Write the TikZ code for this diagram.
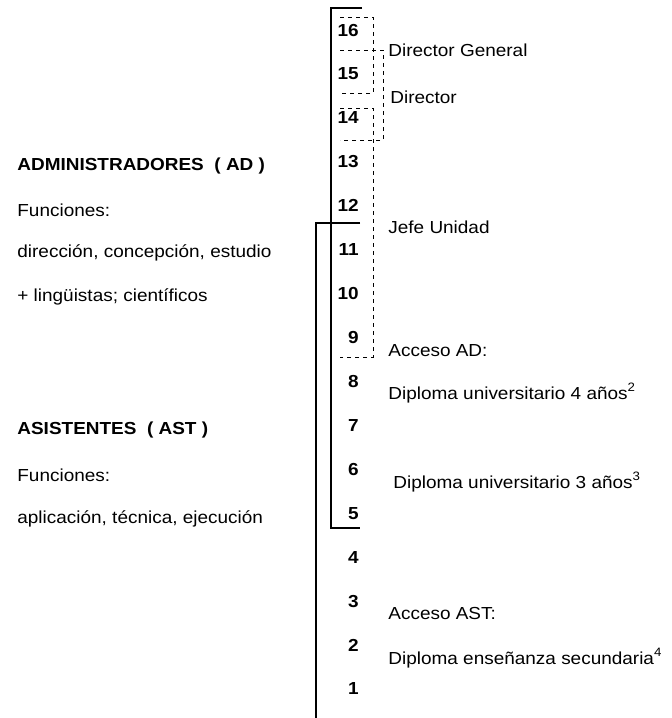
\documentclass[tikz,border=0pt]{standalone}
\usepackage{fontspec}
\setmainfont{Liberation Sans}[FakeStretch=1.09]
\usepackage{tikz}

\begin{document}
\begin{tikzpicture}[x=0.5pt, y=-0.5pt,
    texto/.style={anchor=west, inner sep=0pt, font=\fontsize{8.7}{10}\selectfont},
    titulo/.style={texto, font=\fontsize{8.7}{10}\selectfont\bfseries},
    grado/.style={anchor=east, inner sep=0pt, font=\fontsize{8.7}{10}\selectfont\bfseries},
    escala/.style={line width=0.9pt},
    tramo/.style={line width=0.45pt, dash pattern=on 2pt off 2pt}]
    \useasboundingbox (0,0) rectangle (671,718);
    % Grados
    \foreach \g in {1,...,16}
        \node[grado] (g\g) at (359, 732.9-43.93*\g) {\g};
    % Escala AD
    \draw[escala] (362,8) -- (331,8) -- (331,528) -- (360,528);
    % Escala AST
    \draw[escala] (360,223) -- (316,223) -- (316,718);
    % Puestos
    \draw[tramo] (340,17) -- (373,17) -- (373,93) -- (340,93);
    \draw[tramo] (340,50) -- (383,50) -- (383,140) -- (340,140);
    \draw[tramo] (340,108) -- (373,108) -- (373,357) -- (340,357);
    \node[texto] (dg) at (388,50) {Director General};
    \node[texto] (dir) at (390,97) {Director};
    \node[texto] (jefe) at (388,227) {Jefe Unidad};
    % Acceso
    \node[texto] (accad) at (388,351) {Acceso AD:};
    \node[texto] (dip4) at (388,393) {Diploma universitario 4 años\textsuperscript{2}};
    \node[texto] (dip3) at (393,482) {Diploma universitario 3 años\textsuperscript{3}};
    \node[texto] (accast) at (388,614) {Acceso AST:};
    \node[texto] (dipsec) at (388,658) {Diploma enseñanza secundaria\textsuperscript{4}};
    % Categorias
    \node[titulo] (ad) at (17,166) {ADMINISTRADORES\ \ ( AD )};
    \node[texto] (funad) at (17,210) {Funciones:};
    \node[texto] (fad1) at (17,253) {dirección, concepción, estudio};
    \node[texto] (fad2) at (17,297) {+ lingüistas; científicos};
    \node[titulo] (ast) at (17,430) {ASISTENTES\ \ ( AST )};
    \node[texto] (funast) at (17,475) {Funciones:};
    \node[texto] (fast) at (17,519) {aplicación, técnica, ejecución};
\end{tikzpicture}
\end{document}
